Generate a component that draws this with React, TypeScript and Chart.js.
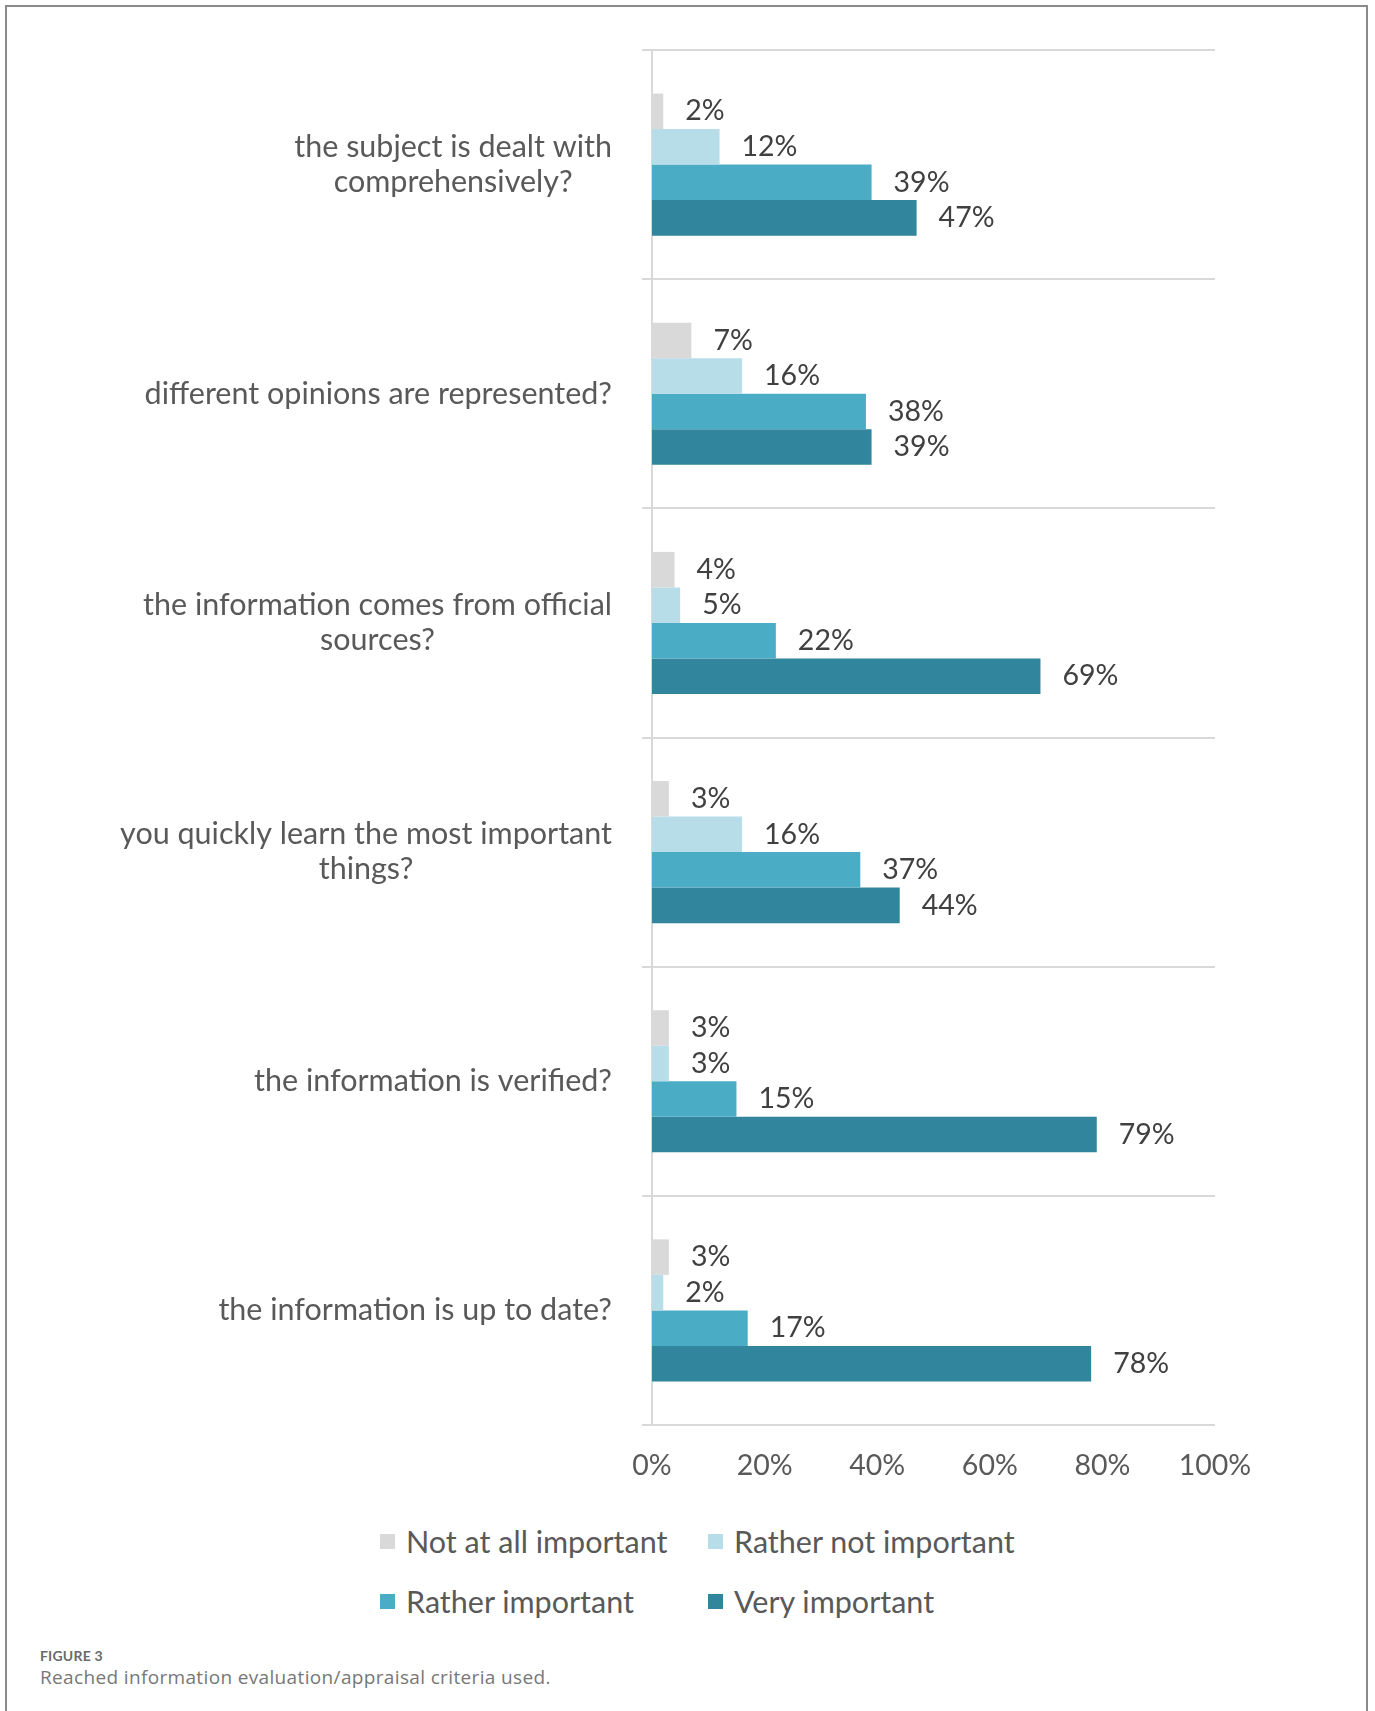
import React, { useEffect, useRef } from "react";
import { Chart, registerables } from "chart.js";

Chart.register(...registerables);

// ---- data ----
const categoryLines: string[][] = [
  ["the subject is dealt with", "comprehensively?"],
  ["different opinions are represented?"],
  ["the information comes from official", "sources?"],
  ["you quickly learn the most important", "things?"],
  ["the information is verified?"],
  ["the information is up to date?"],
];
const seriesNames = [
  "Not at all important",
  "Rather not important",
  "Rather important",
  "Very important",
];
const notAtAllImportant = [2, 7, 4, 3, 3, 3];
const ratherNotImportant = [12, 16, 5, 16, 3, 2];
const ratherImportant = [39, 38, 22, 37, 15, 17];
const veryImportant = [47, 39, 69, 44, 79, 78];
const seriesColors = ["#d9d9d9", "#b7dee8", "#4bacc6", "#31859c"];
const xTickValues = [0, 20, 40, 60, 80, 100];

const FONT = "Lato, 'Open Sans', sans-serif";
const LABEL_SIZE = 30.5;
const NUMBER_SIZE = 28.5;
const LINE_H = 35;

const categoryLabelPlugin = {
  id: "categoryLabels",
  afterDraw(chart: any) {
    const ctx = chart.ctx;
    const yScale = chart.scales.y;
    const area = chart.chartArea;
    ctx.save();
    ctx.font = `${LABEL_SIZE}px ${FONT}`;
    ctx.fillStyle = "#595959";
    ctx.textAlign = "center";
    ctx.textBaseline = "middle";
    const right = area.left - 40;
    categoryLines.forEach((lines, i) => {
      const cy = yScale.getPixelForValue(i);
      const widths = lines.map((l) => ctx.measureText(l).width);
      const w = Math.max(...widths);
      const cx = right - w / 2;
      lines.forEach((line, j) => {
        ctx.fillText(line, cx, cy + (j - (lines.length - 1) / 2) * LINE_H);
      });
    });
    ctx.restore();
  },
};

const valueLabelPlugin = {
  id: "valueLabels",
  afterDatasetsDraw(chart: any) {
    const ctx = chart.ctx;
    ctx.save();
    ctx.font = `${NUMBER_SIZE}px ${FONT}`;
    ctx.fillStyle = "#404040";
    ctx.textAlign = "left";
    ctx.textBaseline = "middle";
    chart.data.datasets.forEach((ds: any, di: number) => {
      const meta = chart.getDatasetMeta(di);
      meta.data.forEach((bar: any, i: number) => {
        ctx.fillText(`${ds.data[i]}%`, bar.x + 22, bar.y);
      });
    });
    ctx.restore();
  },
};

function BarChart() {
  const ref = useRef<HTMLCanvasElement | null>(null);
  useEffect(() => {
    if (!ref.current) return;
    const seriesValues = [notAtAllImportant, ratherNotImportant, ratherImportant, veryImportant];
    const chart = new Chart(ref.current, {
      type: "bar",
      data: {
        labels: categoryLines.map((l) => l.join(" ")),
        datasets: seriesNames.map((name, i) => ({
          label: name,
          data: seriesValues[i],
          backgroundColor: seriesColors[i],
          borderWidth: 0,
          categoryPercentage: 0.62,
          barPercentage: 1.0,
        })),
      },
      options: {
        indexAxis: "y",
        animation: false,
        responsive: true,
        maintainAspectRatio: false,
        layout: { padding: { left: 0, top: 50, right: 160, bottom: 0 } },
        plugins: {
          legend: { display: false },
          tooltip: { enabled: false },
        },
        scales: {
          x: {
            type: "linear",
            min: 0,
            max: 100,
            afterBuildTicks: (scale: any) => {
              scale.ticks = xTickValues.map((v) => ({ value: v }));
            },
            ticks: {
              callback: (v: any) => `${v}%`,
              color: "#595959",
              font: { family: FONT, size: NUMBER_SIZE },
              padding: 24,
            },
            grid: { display: false, drawTicks: false },
            border: { display: false },
            afterFit: (scale: any) => {
              scale.height = 85;
            },
          },
          y: {
            type: "category",
            ticks: { display: false },
            grid: {
              offset: true,
              color: "#d9d9d9",
              lineWidth: 2,
              tickLength: 10,
              drawTicks: true,
            },
            border: { display: true, color: "#d9d9d9", width: 2 },
            afterFit: (scale: any) => {
              scale.width = 652;
            },
          },
        },
      },
      plugins: [categoryLabelPlugin, valueLabelPlugin],
    });
    return () => chart.destroy();
  }, []);
  return <canvas ref={ref} />;
}

export default function App() {
  return (
    <div style={{ position: "absolute", left: 0, top: 0, width: 1375, height: 1711, background: "#fff", overflow: "hidden" }}>
      <div
        style={{
          position: "absolute",
          left: 5,
          top: 5,
          width: 1363,
          height: 1740,
          border: "2px solid #8a8a8a",
          boxSizing: "border-box",
        }}
      />
      <div style={{ position: "absolute", left: 0, top: 0, width: 1375, height: 1510 }}>
        <BarChart />
      </div>
      <div
        style={{
          position: "absolute",
          left: 380,
          top: 1522,
          display: "grid",
          gridTemplateColumns: "328px 328px",
          rowGap: 22,
          fontFamily: FONT,
          fontSize: LABEL_SIZE,
          color: "#595959",
        }}
      >
        {seriesNames.map((name, i) => (
          <div key={name} style={{ display: "flex", alignItems: "center", height: 38 }}>
            <span style={{ display: "inline-block", width: 15, height: 15, background: seriesColors[i], marginRight: 11 }} />
            <span>{name}</span>
          </div>
        ))}
      </div>
      <div style={{ position: "absolute", left: 40, top: 1647, color: "#6a6a6a" }}>
        <div style={{ fontFamily: FONT, fontSize: 14, fontWeight: 700, letterSpacing: 0.2, lineHeight: "18px" }}>FIGURE 3</div>
        <div style={{ fontFamily: "'Open Sans', Lato, sans-serif", fontSize: 19, letterSpacing: 0.35, color: "#777", lineHeight: "25px" }}>
          Reached information evaluation/appraisal criteria used.
        </div>
      </div>
    </div>
  );
}
